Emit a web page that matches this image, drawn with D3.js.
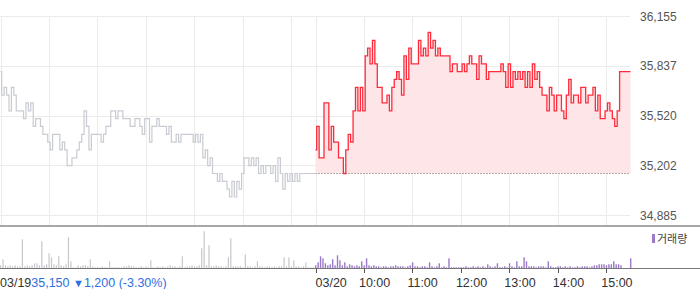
<!DOCTYPE html>
<html>
<head>
<meta charset="utf-8">
<script src="https://cdn.jsdelivr.net/npm/d3@7/dist/d3.min.js"></script>
<style>
  html, body { margin: 0; padding: 0; background: #fff; }
  svg { display: block; font-family: "Liberation Sans", Arial, sans-serif; }
</style>
</head>
<body>
<svg id="chart" width="700" height="289"></svg>
<script>
// 3-minute samples, 09:00 - 15:30
const day1Price = [
  35800, 35650, 35700, 35650, 35550, 35700, 35650, 35550, 35550, 35550,
  35500, 35600, 35550, 35600, 35450, 35500, 35500, 35450, 35400, 35400,
  35350, 35300, 35400, 35400, 35400, 35300, 35350, 35300, 35200, 35200,
  35250, 35250, 35300, 35350, 35400, 35550, 35450, 35300, 35400, 35400,
  35400, 35400, 35350, 35400, 35450, 35450, 35550, 35550, 35500, 35550,
  35550, 35500, 35500, 35500, 35450, 35450, 35500, 35500, 35450, 35400,
  35500, 35500, 35350, 35450, 35450, 35500, 35450, 35450, 35450, 35400,
  35450, 35350, 35350, 35400, 35350, 35400, 35400, 35400, 35400, 35400,
  35350, 35400, 35350, 35400, 35250, 35300, 35200, 35250, 35150, 35150,
  35100, 35150, 35100, 35100, 35050, 35000, 35100, 35000, 35100, 35050,
  35150, 35250, 35250, 35200, 35250, 35200, 35250, 35150, 35200, 35150,
  35200, 35200, 35150, 35200, 35100, 35250, 35150, 35050, 35150, 35100,
  35150, 35100, 35150, 35100, 35150, 35150, 35150, 35150, 35150, 35150,
  35150
]
const day2Price = [
  35300, 35450, 35250, 35250, 35600, 35600, 35300, 35450, 35350, 35350,
  35250, 35250, 35150, 35300, 35400, 35350, 35550, 35700, 35550, 35700,
  35550, 35900, 35950, 35850, 36000, 35850, 35700, 35700, 35600, 35600,
  35650, 35550, 35700, 35750, 35800, 35750, 35650, 35900, 35750, 35950,
  35850, 35850, 35850, 36000, 35900, 35950, 35900, 36050, 35950, 36000,
  35900, 35950, 35900, 35900, 35900, 35900, 35800, 35850, 35850, 35800,
  35800, 35850, 35800, 35850, 35900, 35850, 35850, 35750, 35900, 35850,
  35850, 35750, 35800, 35800, 35800, 35800, 35800, 35850, 35800, 35700,
  35850, 35700, 35800, 35750, 35800, 35750, 35800, 35700, 35800, 35700,
  35850, 35750, 35800, 35700, 35650, 35650, 35550, 35700, 35650, 35550,
  35650, 35650, 35550, 35500, 35650, 35750, 35600, 35650, 35650, 35600,
  35700, 35700, 35600, 35650, 35650, 35700, 35550, 35650, 35500, 35500,
  35550, 35600, 35550, 35500, 35450, 35550, 35800, 35800, 35800, 35800,
  35800
]
const day1Vol = [
  3, 9, 3, 2, 3, 2, 3, 2, 2, 29, 2, 3, 2, 3, 5, 5, 3, 27, 3, 4,
  15, 11, 4, 3, 12, 3, 2, 4, 31, 7, 1, 1, 3, 2, 3, 3, 2, 9, 2, 1,
  1, 1, 2, 1, 1, 7, 1, 1, 1, 1, 1, 2, 2, 3, 2, 2, 1, 1, 2, 1,
  2, 1, 8, 1, 1, 2, 1, 2, 1, 2, 3, 2, 2, 1, 2, 12, 1, 2, 2, 3,
  2, 2, 3, 20, 37, 3, 23, 2, 2, 3, 2, 2, 1, 2, 11, 30, 2, 2, 2, 2,
  1, 14, 2, 2, 1, 2, 7, 2, 2, 1, 2, 2, 1, 2, 1, 2, 2, 11, 2, 11,
  2, 8, 2, 2, 1, 2, 6, 1, 1, 1, 1
]
const day2Vol = [
  3, 6, 12, 10, 5, 3, 4, 9, 3, 13, 8, 3, 6, 2, 4, 3, 2, 3, 2, 7,
  3, 10, 3, 2, 3, 2, 2, 1, 2, 2, 1, 2, 2, 3, 2, 2, 2, 1, 2, 3,
  6, 2, 2, 1, 2, 2, 1, 6, 2, 1, 2, 5, 1, 2, 1, 10, 1, 1, 1, 1,
  1, 1, 2, 1, 1, 2, 1, 2, 1, 2, 1, 4, 2, 1, 2, 5, 1, 1, 2, 1,
  5, 2, 1, 7, 2, 2, 11, 7, 2, 2, 2, 1, 2, 2, 2, 1, 7, 2, 1, 1,
  2, 2, 1, 2, 1, 2, 1, 1, 2, 1, 2, 2, 2, 1, 2, 3, 3, 4, 4, 4,
  3, 4, 4, 7, 4, 4, 3, 0, 0, 0, 10
]
const prevClose = 35150
const priceTicks = [34885, 35202, 35520, 35837, 36155]
const hourTicks = [0, 60, 120, 180, 240, 300, 360, 390, 450, 510, 570, 630, 690, 750]
const timeTicks = [390, 450, 510, 570, 630, 690, 750]
const timeLabels = ['03/20', '10:00', '11:00', '12:00', '13:00', '14:00', '15:00']

const svg = d3.select('#chart')
const plotW = 630

const x = d3.scaleLinear().domain([0, 780]).range([0.5, plotW + 0.5])
const y = d3.scaleLinear().domain([34885, 36155]).range([215, 16])
const yv = d3.scaleLinear().domain([0, 42]).range([268.3, 226.3])

const series1 = day1Price.map((p, i) => ({ t: i * 3, p }))
const series2 = day2Price.map((p, i) => ({ t: 390 + i * 3, p }))

const grid = svg.append('g').attr('stroke', '#ebebeb').attr('stroke-width', 1)
grid.selectAll('line.h').data(priceTicks).enter().append('line')
    .attr('x1', 0).attr('x2', plotW)
    .attr('y1', d => Math.round(y(d)) + 0.5).attr('y2', d => Math.round(y(d)) + 0.5)
grid.selectAll('line.v').data(hourTicks).enter().append('line')
    .attr('x1', d => Math.round(x(d)) + 0.5).attr('x2', d => Math.round(x(d)) + 0.5)
    .attr('y1', 16).attr('y2', 226)

svg.append('g').selectAll('text').data(priceTicks).enter().append('text')
    .attr('x', 640).attr('y', d => y(d) + 4.5)
    .attr('font-size', 12).attr('fill', '#555')
    .text(d3.format(','))

// area above previous close
svg.append('path').datum(series2)
    .attr('fill', '#fde5e8')
    .attr('d', d3.area().curve(d3.curveStep).x(d => x(d.t)).y0(y(prevClose)).y1(d => y(d.p)))

svg.append('line')
    .attr('x1', x(390)).attr('x2', plotW)
    .attr('y1', Math.round(y(prevClose)) + 0.5).attr('y2', Math.round(y(prevClose)) + 0.5)
    .attr('stroke', '#666').attr('stroke-dasharray', '1,2')

const line = d3.line().curve(d3.curveStep).x(d => x(d.t)).y(d => y(d.p))
svg.append('path').datum(series1)
    .attr('fill', 'none').attr('stroke', '#c8cbd1').attr('stroke-width', 1.2)
    .attr('d', line)
svg.append('path').datum(series2)
    .attr('fill', 'none').attr('stroke', '#ff2b3a').attr('stroke-width', 1.3)
    .attr('d', line)

// volume panel
svg.append('line').attr('x1', 0).attr('x2', 700).attr('y1', 226).attr('y2', 226)
    .attr('stroke', '#8a8a8a').attr('stroke-width', 1.5)

const vol = svg.append('g')
vol.selectAll('rect.d1').data(day1Vol).enter().append('rect')
    .attr('x', (d, i) => x(i * 3) - 0.5).attr('width', 1.2)
    .attr('y', d => yv(d)).attr('height', d => yv(0) - yv(d))
    .attr('fill', '#c6c7cc')
vol.selectAll('rect.d2').data(day2Vol).enter().append('rect')
    .attr('x', (d, i) => x(390 + i * 3) - 0.5).attr('width', 1.4)
    .attr('y', d => yv(d)).attr('height', d => yv(0) - yv(d))
    .attr('fill', '#9a7ac8')

svg.append('line').attr('x1', 0).attr('x2', 700).attr('y1', 268.5).attr('y2', 268.5)
    .attr('stroke', '#777').attr('stroke-width', 1)

svg.append('rect').attr('x', 652).attr('y', 234).attr('width', 3).attr('height', 9).attr('fill', '#9a7ac8')
svg.append('text').attr('x', 657).attr('y', 242.5)
    .attr('font-family', '"Noto Sans CJK KR", sans-serif').attr('font-size', 11).attr('fill', '#444')
    .text('거래량')

// x axis
svg.append('g').selectAll('line').data(timeTicks).enter().append('line')
    .attr('x1', d => Math.round(x(d)) + 0.5).attr('x2', d => Math.round(x(d)) + 0.5)
    .attr('y1', 268.5).attr('y2', 273)
    .attr('stroke', '#555')

svg.append('g').selectAll('text').data(timeTicks).enter().append('text')
    .attr('x', (d, i) => i === 0 ? x(d) : x(d) - 5)
    .attr('y', 287)
    .attr('font-size', 12.5).attr('fill', '#333')
    .text((d, i) => timeLabels[i])

const info = svg.append('text').attr('x', 0).attr('y', 287).attr('font-size', 12.5)
info.append('tspan').attr('fill', '#333').text('03/19')
info.append('tspan').attr('fill', '#2f6fe0').text('35,150 ')
info.append('tspan').attr('fill', '#2f6fe0').attr('font-size', 11).text('▼')
info.append('tspan').attr('fill', '#2f6fe0').text('1,200 (-3.30%)')
</script>
</body>
</html>
